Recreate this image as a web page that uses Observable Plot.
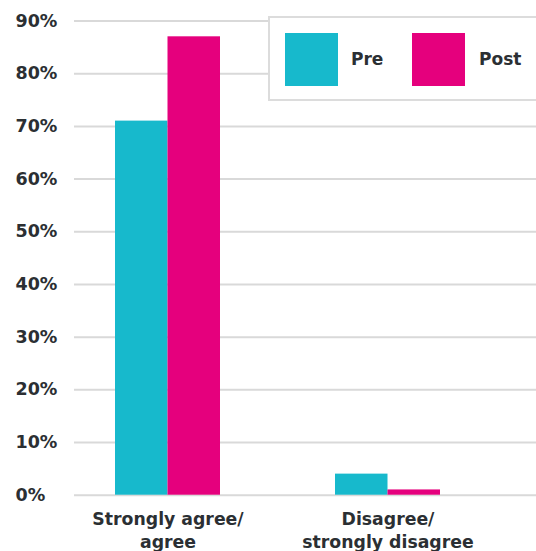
<!DOCTYPE html>
<html>
<head>
<meta charset="utf-8">
<script src="https://cdn.jsdelivr.net/npm/d3@7"></script>
<script src="https://cdn.jsdelivr.net/npm/@observablehq/plot@0.6"></script>
<style>
  html, body { margin: 0; padding: 0; background: #fff; overflow: hidden; }
  #wrap { position: relative; width: 536px; height: 551px; overflow: hidden; }
  #legend { position: absolute; left: 268px; top: 16px; width: 300px; height: 81px;
    border: 2px solid #dcdcdc; background: #fff; box-sizing: content-box;
    font-family: "DejaVu Sans", sans-serif; font-weight: bold; font-size: 17px; color: #2b2f33; }
  .sw { position: absolute; top: 15px; width: 53px; height: 53px; }
  .lb { position: absolute; top: 31px; }
</style>
</head>
<body>
<div id="wrap"><div id="chart"></div><div id="legend"></div></div>
<script>
const categories = ["Strongly agree/ agree", "Disagree/ strongly disagree"];
const xLabels = ["Strongly agree/\nagree", "Disagree/\nstrongly disagree"];
const series = ["Pre", "Post"];
const preValues = [71, 4];
const postValues = [87, 1];
const yTicks = [0, 10, 20, 30, 40, 50, 60, 70, 80, 90];
const colors = ["#17b9cc", "#e5007d"];

const data = [];
categories.forEach((c, i) => {
  data.push({category: c, series: "Pre", value: preValues[i]});
  data.push({category: c, series: "Post", value: postValues[i]});
});

const font = "DejaVu Sans, sans-serif";
const chart = Plot.plot({
  width: 536,
  height: 551,
  marginLeft: 74,
  marginRight: 0,
  marginTop: 20.5,
  marginBottom: 56.3,
  style: {fontFamily: font, fontWeight: "bold", color: "#2b2f33", background: "#fff"},
  x: {domain: categories, paddingInner: 0.523, paddingOuter: 0.3115, align: 0.296},
  y: {domain: [0, 90]},
  color: {domain: series, range: colors},
  marks: [
    Plot.ruleY(yTicks, {stroke: "#d9d9d9", strokeWidth: 2}),
    Plot.barY(data.filter(d => d.series === "Pre"), {x: "category", y: "value", fill: "series", insetRight: 52.5}),
    Plot.barY(data.filter(d => d.series === "Post"), {x: "category", y: "value", fill: "series", insetLeft: 52.5}),
    Plot.axisY(yTicks, {tickSize: 0, tickPadding: 0, textAnchor: "start", dx: -59, fontSize: 17.5, tickFormat: d => d + "%", label: null, fill: "#2b2f33"}),
    Plot.axisX({tickSize: 0, tickPadding: 13, fontSize: 17.3, lineHeight: 1.35, tickFormat: (d, i) => xLabels[categories.indexOf(d)], label: null, fill: "#2b2f33"})
  ]
});
document.getElementById("chart").appendChild(chart);

const legend = document.getElementById("legend");
const swX = [15, 142], lbX = [81, 209];
series.forEach((s, i) => {
  const sw = document.createElement("div");
  sw.className = "sw"; sw.style.left = swX[i] + "px"; sw.style.background = colors[i];
  legend.appendChild(sw);
  const lb = document.createElement("div");
  lb.className = "lb"; lb.style.left = lbX[i] + "px"; lb.textContent = s;
  legend.appendChild(lb);
});
</script>
</body>
</html>
